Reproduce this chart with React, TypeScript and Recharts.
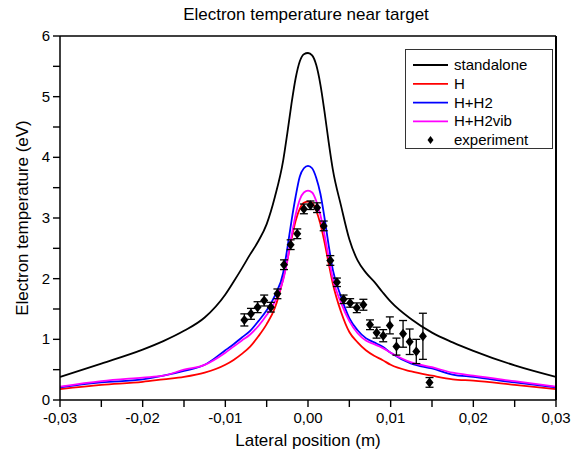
import React from 'react';
import {
  ComposedChart, Line, Scatter, ErrorBar, XAxis, YAxis
} from 'recharts';

// lateral position grid of the simulated profiles (m)
const positions = [
  -0.03, -0.025, -0.02, -0.0175, -0.015, -0.0125, -0.01, -0.009, -0.008, -0.007,
  -0.006, -0.005, -0.004, -0.003, -0.0025, -0.002, -0.0015, -0.001, -0.0005, 0,
  0.0005, 0.001, 0.0015, 0.002, 0.0025, 0.003, 0.004, 0.005, 0.006, 0.007,
  0.008, 0.009, 0.01, 0.0125, 0.015, 0.0175, 0.02, 0.025, 0.03
];

const standalone = [
  0.38, 0.6, 0.83, 0.97, 1.14, 1.36, 1.74, 1.95, 2.17, 2.4,
  2.62, 2.9, 3.35, 3.95, 4.4, 4.88, 5.3, 5.58, 5.7, 5.72,
  5.68, 5.52, 5.2, 4.75, 4.25, 3.8, 3.2, 2.65, 2.3, 2.1,
  1.95, 1.78, 1.62, 1.33, 1.11, 0.95, 0.81, 0.57, 0.38
];
const hOnly = [
  0.18, 0.25, 0.3, 0.34, 0.38, 0.45, 0.58, 0.66, 0.76, 0.88,
  1.05, 1.25, 1.52, 2.0, 2.3, 2.65, 2.95, 3.15, 3.25, 3.27,
  3.25, 3.12, 2.9, 2.6, 2.25, 1.92, 1.45, 1.12, 0.95, 0.82,
  0.73, 0.66, 0.58, 0.47, 0.4, 0.34, 0.32, 0.25, 0.18
];
const hH2 = [
  0.21, 0.29, 0.34, 0.4, 0.48, 0.58, 0.82, 0.92, 1.03, 1.14,
  1.3, 1.48, 1.72, 2.1, 2.5, 2.95, 3.35, 3.68, 3.82, 3.86,
  3.82, 3.66, 3.4, 3.0, 2.55, 2.15, 1.7, 1.35, 1.15, 1.02,
  0.95, 0.88, 0.78, 0.6, 0.52, 0.42, 0.38, 0.29, 0.21
];
const hH2vib = [
  0.22, 0.31, 0.37, 0.4, 0.5, 0.58, 0.78, 0.88, 0.98, 1.08,
  1.22, 1.4, 1.62, 1.98, 2.3, 2.7, 3.05, 3.3, 3.42, 3.45,
  3.42, 3.28, 3.05, 2.72, 2.35, 2.0, 1.6, 1.3, 1.1, 0.98,
  0.92, 0.86, 0.78, 0.62, 0.54, 0.45, 0.4, 0.31, 0.22
];

// measured points
const expX = [
  -0.0077, -0.0069, -0.0061, -0.0053, -0.0045, -0.0037, -0.0029, -0.0021, -0.0013, -0.0005,
  0.0003, 0.0011, 0.0019, 0.0027, 0.0035, 0.0043, 0.0051, 0.0059, 0.0067, 0.0075,
  0.0083, 0.0091, 0.0099, 0.0107, 0.0115, 0.0123, 0.0131, 0.0139, 0.0147
];
const expY = [
  1.32, 1.42, 1.53, 1.64, 1.53, 1.75, 2.23, 2.56, 2.74, 3.15,
  3.21, 3.17, 2.87, 2.3, 1.94, 1.66, 1.6, 1.52, 1.57, 1.24,
  1.11, 1.06, 1.23, 0.88, 1.09, 0.96, 0.8, 1.05, 0.29
];
const expErr = [
  0.1, 0.09, 0.09, 0.09, 0.08, 0.08, 0.08, 0.08, 0.08, 0.08,
  0.07, 0.08, 0.08, 0.08, 0.07, 0.07, 0.07, 0.08, 0.09, 0.08,
  0.09, 0.1, 0.14, 0.14, 0.22, 0.21, 0.2, 0.38, 0.08
];

const xTicks = [
  -0.03, -0.025, -0.02, -0.015, -0.01, -0.005, 0, 0.005, 0.01, 0.015, 0.02, 0.025, 0.03
];
const yTicks = [0, 0.5, 1, 1.5, 2, 2.5, 3, 3.5, 4, 4.5, 5, 5.5, 6];

const series = [
  { name: 'standalone', values: standalone, color: '#000000' },
  { name: 'H', values: hOnly, color: '#ff0000' },
  { name: 'H+H2', values: hH2, color: '#0000ff' },
  { name: 'H+H2vib', values: hH2vib, color: '#ff00ff' },
];

const expData = expX.map((x, i) => ({ x, y: expY[i], err: expErr[i] }));

const FONT = 'Arial, "Liberation Sans", sans-serif';
const TICK_LINE = { stroke: '#000', strokeWidth: 1.4 };
const AXIS_LINE = { stroke: '#000', strokeWidth: 1.5 };

const isMajorX = (v: number) => Math.abs(Math.round(v * 100) - v * 100) < 1e-6;
const isMajorY = (v: number) => Math.abs(Math.round(v) - v) < 1e-6;
const fmtX = (v: number) => v.toFixed(2).replace('.', ',').replace('-0,00', '0,00');

const BottomLabel = (props: any) => {
  const { x, y, payload } = props;
  if (!isMajorX(payload.value)) return <g />;
  return (
    <text x={x} y={y + 16} textAnchor="middle" fontSize={15} fontFamily={FONT} fill="#000">
      {fmtX(payload.value)}
    </text>
  );
};

const LeftLabel = (props: any) => {
  const { x, y, payload } = props;
  if (!isMajorY(payload.value)) return <g />;
  return (
    <text x={x - 3} y={y + 5} textAnchor="end" fontSize={15} fontFamily={FONT} fill="#000">
      {payload.value}
    </text>
  );
};

const Diamond = (props: any) => {
  const { cx, cy } = props;
  if (cx == null || cy == null) return null;
  return <polygon points={`${cx},${cy - 5} ${cx + 4},${cy} ${cx},${cy + 5} ${cx - 4},${cy}`} fill="#000" />;
};

const LegendBox = () => (
  <div
    style={{
      position: 'absolute', left: 405, top: 49, border: '1px solid #333',
      background: '#fff', width: 146, height: 98
    }}
  >
    <svg width={146} height={98} style={{ display: 'block' }}>
      {series.map((s, i) => (
        <g key={s.name}>
          <line x1={7} x2={42} y1={15 + i * 18.8} y2={15 + i * 18.8} stroke={s.color} strokeWidth={1.8} />
          <text x={48} y={20 + i * 18.8} fontSize={15} fontFamily={FONT} fill="#000">{s.name}</text>
        </g>
      ))}
      <polygon points="24.5,86 27.5,90 24.5,94 21.5,90" fill="#000" />
      <text x={48} y={95} fontSize={15} fontFamily={FONT} fill="#000">experiment</text>
    </svg>
  </div>
);

const App = () => {
  return (
    <div style={{ position: 'absolute', left: 0, top: 0, width: 581, height: 452, background: '#fff' }}>
      <div
        style={{
          position: 'absolute', left: 0, top: 5, width: 612, textAlign: 'center',
          fontFamily: FONT, fontSize: 17, color: '#000'
        }}
      >
        Electron temperature near target
      </div>
      <ComposedChart width={581} height={452} margin={{ top: 36, right: 25, bottom: 0, left: 0 }}>
        <XAxis
          xAxisId="b" dataKey="x" type="number" domain={[-0.03, 0.03]} ticks={xTicks}
          allowDataOverflow height={52} tickSize={7} tickMargin={0} tickLine={TICK_LINE}
          axisLine={AXIS_LINE} tick={<BottomLabel />} interval={0}
          label={{
            content: (p: any) => (
              <text x={p.viewBox.x + p.viewBox.width / 2} y={p.viewBox.y + 46} textAnchor="middle"
                fontSize={17} fontFamily={FONT} fill="#000">Lateral position (m)</text>
            )
          }}
        />
        <XAxis
          xAxisId="t" orientation="top" mirror dataKey="x" type="number" domain={[-0.03, 0.03]}
          ticks={xTicks} allowDataOverflow height={1} tickSize={6} tickLine={TICK_LINE}
          axisLine={AXIS_LINE} tick={false} interval={0}
        />
        <YAxis
          yAxisId="l" type="number" domain={[0, 6]} ticks={yTicks} width={60} allowDataOverflow
          tickSize={7} tickMargin={0} tickLine={TICK_LINE} interval={0}
          axisLine={AXIS_LINE} tick={<LeftLabel />}
          label={{
            content: (p: any) => {
              const cx = 22;
              const cy = p.viewBox.y + p.viewBox.height / 2;
              return (
                <text x={cx} y={cy} transform={`rotate(-90 ${cx} ${cy})`} textAnchor="middle"
                  dominantBaseline="central" fontSize={17} fontFamily={FONT} fill="#000">
                  Electron temperature (eV)
                </text>
              );
            }
          }}
        />
        <YAxis
          yAxisId="r" orientation="right" mirror type="number" domain={[0, 6]} ticks={yTicks}
          width={1} allowDataOverflow tickSize={6} tickLine={TICK_LINE} interval={0}
          axisLine={{ stroke: '#000', strokeWidth: 2 }} tick={false}
        />
        {series.map((s) => (
          <Line
            key={s.name} xAxisId="b" yAxisId="l" name={s.name}
            data={positions.map((x, i) => ({ x, y: s.values[i] }))}
            dataKey="y" type="monotone" stroke={s.color} strokeWidth={1.8}
            dot={false} activeDot={false} isAnimationActive={false}
          />
        ))}
        <Scatter
          xAxisId="b" yAxisId="l" name="experiment" data={expData} dataKey="y"
          shape={<Diamond />} isAnimationActive={false}
        >
          <ErrorBar dataKey="err" direction="y" width={4} stroke="#000" strokeWidth={1.3} />
        </Scatter>
      </ComposedChart>
      <LegendBox />
    </div>
  );
};

export default App;
